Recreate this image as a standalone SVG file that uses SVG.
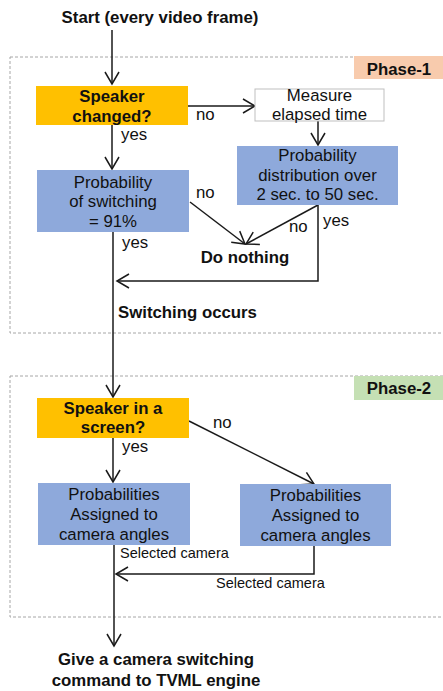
<svg xmlns="http://www.w3.org/2000/svg" width="443" height="691" viewBox="0 0 443 691">
<style>
text{font-family:"Liberation Sans",Arial,sans-serif;fill:#111}
.b{font-weight:bold;font-size:16.8px}
.n{font-size:16.8px}
.s{font-size:14.5px}
.m{text-anchor:middle}
.phase{fill:none;stroke:#a6a6a6;stroke-width:1;stroke-dasharray:3,2}
.ln{fill:none;stroke:#1a1a1a;stroke-width:1.5}
.arr{marker-end:url(#ah)}
</style>
<defs>
<marker id="ah" markerUnits="userSpaceOnUse" markerWidth="30" markerHeight="30" viewBox="-15 -15 30 30" refX="0" refY="0" orient="auto">
<path d="M-12,-7 L0,0 L-12,7" fill="none" stroke="#1a1a1a" stroke-width="1.5"/>
</marker>
</defs>
<g id="phase1">
<rect class="phase" x="10" y="57" width="440" height="276"/>
<rect x="354" y="56" width="89" height="23" fill="#F8CBAD"/>
<text class="b m" x="399" y="75">Phase-1</text>
</g>
<g id="phase2">
<rect class="phase" x="10" y="376" width="440" height="241"/>
<rect x="354" y="376" width="89" height="24" fill="#C5E0B4"/>
<text class="b m" x="399" y="394">Phase-2</text>
</g>
<g id="connectors">
<path class="ln arr" d="M112,30 V84"/>
<path class="ln arr" d="M188,106 H255"/>
<path class="ln arr" d="M318,121 V145"/>
<path class="ln arr" d="M112,125 V169"/>
<path class="ln arr" d="M190,202 L245,244"/>
<path class="ln arr" d="M318,205 L246,244"/>
<path class="ln arr" d="M318,205 V281 H117"/>
<path class="ln arr" d="M113,232 V397"/>
<path class="ln arr" d="M113,438 V482"/>
<path class="ln arr" d="M189,421 L314,484"/>
<path class="ln arr" d="M114,545 V646"/>
<path class="ln arr" d="M314,546 V574 H116"/>
<text class="n" x="196" y="120">no</text>
<text class="n" x="121" y="140">yes</text>
<text class="n" x="196" y="198">no</text>
<text class="n" x="289" y="232">no</text>
<text class="n" x="323" y="226">yes</text>
<text class="n" x="122" y="248">yes</text>
<text class="n" x="213" y="428">no</text>
<text class="n" x="122" y="452">yes</text>
<text class="s" x="120" y="558">Selected camera</text>
<text class="s" x="216" y="588">Selected camera</text>
</g>
<g id="start">
<text class="b m" x="160" y="23">Start (every video frame)</text>
</g>
<g id="speaker-changed">
<rect x="36" y="86" width="152" height="39" fill="#FFC000"/>
<text class="b m" x="112" y="102">Speaker</text>
<text class="b m" x="112" y="122">changed?</text>
</g>
<g id="measure">
<rect x="255" y="89" width="129" height="32" fill="#fff" stroke="#bfbfbf" stroke-width="1"/>
<text class="n m" x="319.5" y="101">Measure</text>
<text class="n m" x="319.5" y="120">elapsed time</text>
</g>
<g id="prob-dist">
<rect x="237" y="146" width="161" height="59" fill="#8EA9DB"/>
<text class="n m" x="317.5" y="161">Probability</text>
<text class="n m" x="317.5" y="181">distribution over</text>
<text class="n m" x="317.5" y="200">2 sec. to 50 sec.</text>
</g>
<g id="prob-switch">
<rect x="37" y="170" width="152" height="62" fill="#8EA9DB"/>
<text class="n m" x="113" y="188">Probability</text>
<text class="n m" x="113" y="207">of switching</text>
<text class="n m" x="113" y="227">= 91%</text>
</g>
<g id="do-nothing">
<text class="b m" x="245" y="263">Do nothing</text>
</g>
<g id="switching-occurs">
<text class="b" x="118" y="318">Switching occurs</text>
</g>
<g id="speaker-screen">
<rect x="37" y="398" width="152" height="40" fill="#FFC000"/>
<text class="b m" x="113" y="414">Speaker in a</text>
<text class="b m" x="113" y="433">screen?</text>
</g>
<g id="prob-left">
<rect x="38" y="483" width="152" height="62" fill="#8EA9DB"/>
<text class="n m" x="114" y="500">Probabilities</text>
<text class="n m" x="114" y="520">Assigned to</text>
<text class="n m" x="114" y="540">camera angles</text>
</g>
<g id="prob-right">
<rect x="240" y="484" width="151" height="62" fill="#8EA9DB"/>
<text class="n m" x="315.5" y="501">Probabilities</text>
<text class="n m" x="315.5" y="521">Assigned to</text>
<text class="n m" x="315.5" y="541">camera angles</text>
</g>
<g id="command">
<text class="b m" x="156" y="665">Give a camera switching</text>
<text class="b m" x="156" y="686">command to TVML engine</text>
</g>
</svg>
